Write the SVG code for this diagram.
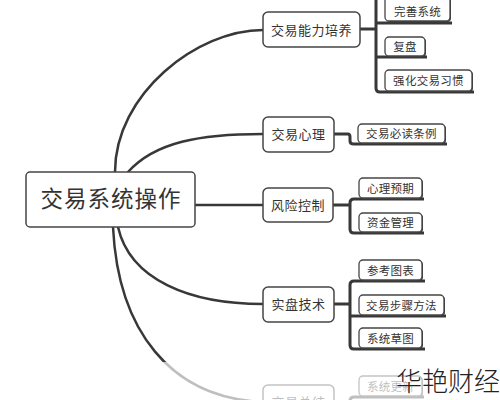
<svg xmlns="http://www.w3.org/2000/svg" width="500" height="400" viewBox="0 0 500 400">
<style>
.c{fill:none;stroke:#383838;stroke-width:2.5;stroke-linecap:round}
.b{fill:none;stroke:#383838;stroke-width:3;stroke-linejoin:round}
.l1{fill:#fff;stroke:#454545;stroke-width:1.5}
.l2{fill:#fff;stroke:#454545;stroke-width:1.3}
.sh{fill:#3a3a3a}
.t0{font-family:"Noto Sans CJK SC",sans-serif;font-size:22.5px;fill:#333;text-anchor:middle;letter-spacing:1px}
.t1{font-family:"Noto Sans CJK SC",sans-serif;font-size:13px;fill:#333;text-anchor:middle;letter-spacing:0.5px}
.t2{font-family:"Noto Sans CJK SC",sans-serif;font-size:11.5px;fill:#333;text-anchor:middle;letter-spacing:0.3px}
</style>
<rect width="500" height="400" fill="#fff"/>
<g id="connectors">
<path class="c" d="M115,172 C115,94 197,30 263,30"/>
<path class="c" d="M128,172 C155,142 200,134 263,134"/>
<path class="c" d="M195,205 H263"/>
<path class="c" d="M118,227 C130,280 190,304 263,304"/>
<path class="c" d="M113,227 C118,330 170,398 263,402"/>
<path class="b" d="M360,29 H376"/>
<path class="b" d="M376,-5 V88 Q376,92 380,92 H474"/>
<path class="b" d="M376,23 H452"/>
<path class="b" d="M376,57 H427"/>
<path class="b" d="M334,134 H348 Q350,134 350,137 V141 Q350,144 354,144 H447"/>
<path class="b" d="M333,205 H350"/>
<path class="b" d="M424,199 H354 Q350,199 350,203 V229 Q350,233 354,233 H424"/>
<path class="b" d="M334,304 H350"/>
<path class="b" d="M425,281 H354 Q350,281 350,285 V345 Q350,349 354,349 H425"/>
<path class="b" d="M350,316 H446"/>
<path class="b" d="M334,402 H350"/>
<path class="b" d="M424,397 H354 Q350,397 350,401 V420"/>
</g>
<g id="root">
<rect x="26" y="172" width="169" height="55" rx="4" class="l1"/>
<text x="111" y="207" class="t0">交易系统操作</text>
</g>
<g id="n1">
<rect x="263" y="12" width="97" height="35" rx="5" class="l1"/>
<text x="311.5" y="34.5" class="t1">交易能力培养</text>
</g>
<g id="n1a">
<rect x="386" y="-8" width="65" height="30" rx="4" class="sh"/>
<rect x="385" y="-9" width="65" height="30" rx="4" class="l2"/>
<text x="417.5" y="16" class="t2">完善系统</text>
</g>
<g id="n1b">
<rect x="386" y="38" width="40" height="19" rx="4" class="sh"/>
<rect x="385" y="37" width="40" height="19" rx="4" class="l2"/>
<text x="405" y="51" class="t2">复盘</text>
</g>
<g id="n1c">
<rect x="386" y="71" width="87" height="21" rx="4" class="sh"/>
<rect x="385" y="70" width="87" height="21" rx="4" class="l2"/>
<text x="428.5" y="85" class="t2">强化交易习惯</text>
</g>
<g id="n2">
<rect x="263" y="117" width="71" height="35" rx="5" class="l1"/>
<text x="298.5" y="139" class="t1">交易心理</text>
</g>
<g id="n2a">
<rect x="359" y="125" width="87" height="19" rx="4" class="sh"/>
<rect x="358" y="124" width="87" height="19" rx="4" class="l2"/>
<text x="401.5" y="138" class="t2">交易必读条例</text>
</g>
<g id="n3">
<rect x="263" y="188" width="70" height="34" rx="5" class="l1"/>
<text x="298" y="209.5" class="t1">风险控制</text>
</g>
<g id="n3a">
<rect x="360" y="179" width="63" height="20" rx="4" class="sh"/>
<rect x="359" y="178" width="63" height="20" rx="4" class="l2"/>
<text x="390.5" y="192.5" class="t2">心理预期</text>
</g>
<g id="n3b">
<rect x="360" y="214" width="63" height="19" rx="4" class="sh"/>
<rect x="359" y="213" width="63" height="19" rx="4" class="l2"/>
<text x="390.5" y="227" class="t2">资金管理</text>
</g>
<g id="n4">
<rect x="263" y="287" width="71" height="35" rx="5" class="l1"/>
<text x="298.5" y="309" class="t1">实盘技术</text>
</g>
<g id="n4a">
<rect x="360" y="261" width="63" height="20" rx="4" class="sh"/>
<rect x="359" y="260" width="63" height="20" rx="4" class="l2"/>
<text x="390.5" y="274.5" class="t2">参考图表</text>
</g>
<g id="n4b">
<rect x="360" y="296" width="85" height="20" rx="4" class="sh"/>
<rect x="359" y="295" width="85" height="20" rx="4" class="l2"/>
<text x="401.5" y="309.5" class="t2">交易步骤方法</text>
</g>
<g id="n4c">
<rect x="360" y="329" width="63" height="20" rx="4" class="sh"/>
<rect x="359" y="328" width="63" height="20" rx="4" class="l2"/>
<text x="390.5" y="342.5" class="t2">系统草图</text>
</g>
<g id="n5">
<rect x="263" y="385" width="71" height="35" rx="5" class="l1"/>
<text x="298.5" y="407" class="t1">交易总结</text>
</g>
<g id="n5a">
<rect x="360" y="377" width="63" height="20" rx="4" class="sh"/>
<rect x="359" y="376" width="63" height="20" rx="4" class="l2"/>
<text x="390.5" y="390.5" class="t2">系统更新</text>
</g>
<rect x="0" y="362" width="500" height="38" fill="#fff" opacity="0.68"/>
<text x="500" y="391" font-family="Noto Sans CJK SC, sans-serif" font-size="26" font-weight="300" fill="#222" text-anchor="end">华艳财经</text>
</svg>
